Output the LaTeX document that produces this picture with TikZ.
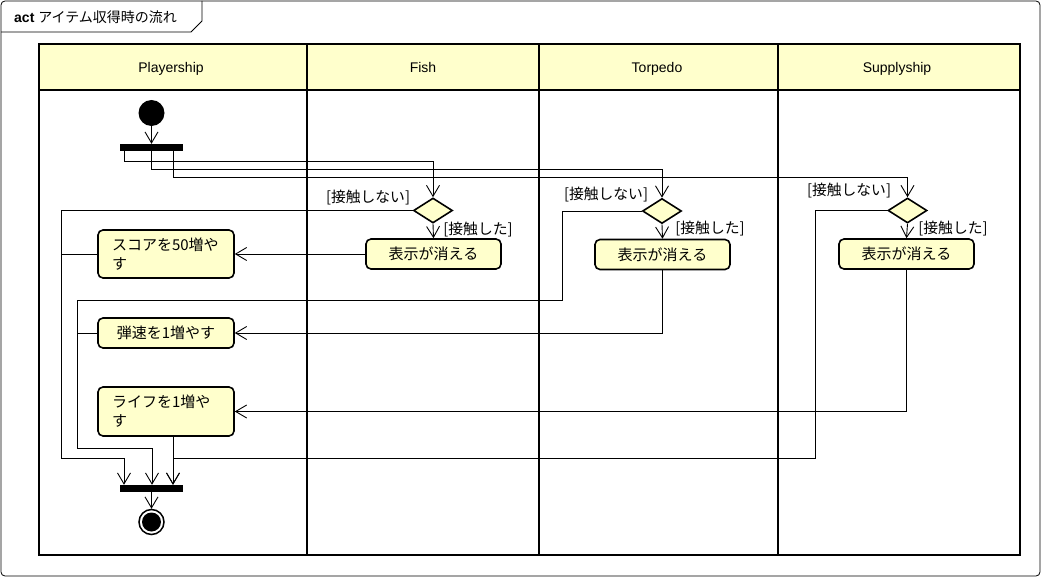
\documentclass[tikz,border=0pt]{standalone}
\usepackage{fontspec}
\setmainfont{Liberation Sans}
\newfontfamily\jp{Noto Sans CJK JP}
\usetikzlibrary{shapes.geometric,arrows.meta}
\definecolor{umlfill}{RGB}{255,255,204}
\begin{document}
\begin{tikzpicture}[x=1pt,y=-1pt,
  lane/.style={draw, line width=2.5pt},
  actbox/.style={draw, line width=1.6pt, rounded corners=5pt, fill=umlfill, font=\jp\fontsize{15}{19}\selectfont, inner sep=0pt},
  dec/.style={diamond, draw, line width=1.6pt, fill=umlfill, minimum width=39pt, minimum height=25pt, inner sep=0pt},
  syncbar/.style={fill=black, minimum width=63pt, minimum height=7pt, inner sep=0pt},
  arr/.style={-{Straight Barb[length=11pt,width=13pt,line width=0.9pt]}, line width=0.9pt},
  conn/.style={line width=0.9pt},
  guard/.style={font=\jp\fontsize{14.8}{16}\selectfont, inner sep=0pt},
  hdr/.style={font=\fontsize{14}{16}\selectfont, inner sep=0pt, anchor=base}
]
\useasboundingbox (0,0) rectangle (1045,578);
% outer frame
\draw[line width=0.8pt, rounded corners=4pt] (1,1) rectangle (1040,576);
\draw[line width=0.8pt] (1,32) -- (191,32) -- (202,21) -- (202,1);
\node[anchor=west, inner sep=0pt, font=\fontsize{14}{16}\selectfont] (title) at (14,17) {\textbf{act} {\jp アイテム収得時の流れ}};
% swimlanes
\fill[umlfill] (39,44) rectangle (1020,90);
\draw[lane] (39,44) rectangle (1020,555);
\draw[lane] (39,90) -- (1020,90);
\draw[lane] (307,44) -- (307,555);
\draw[lane] (539,44) -- (539,555);
\draw[lane] (778,44) -- (778,555);
\node[hdr] (h1) at (171,73) {Playership};
\node[hdr] (h2) at (423,73) {Fish};
\node[hdr] (h3) at (657,73) {Torpedo};
\node[hdr] (h4) at (897,73) {Supplyship};
% nodes
\node[circle, fill=black, minimum size=26pt, inner sep=0pt] (start) at (151.5,113) {};
\node[syncbar] (fork1) at (151.5,147.5) {};
\node[dec] (d1) at (433,210.5) {};
\node[dec] (d2) at (662,211) {};
\node[dec] (d3) at (907.5,210.5) {};
\node[actbox, minimum width=135pt, minimum height=30pt] (a1) at (433.5,254) {表示が消える};
\node[actbox, minimum width=135pt, minimum height=30pt] (a2) at (662.5,254.5) {表示が消える};
\node[actbox, minimum width=135pt, minimum height=30pt] (a3) at (906.5,254) {表示が消える};
\node[actbox, minimum width=136pt, minimum height=48pt, text width=108pt, align=left, inner xsep=14pt] (score) at (166,254) {スコアを50増や\\す};
\node[actbox, minimum width=136pt, minimum height=30pt] (speed) at (166,333) {弾速を1増やす};
\node[actbox, minimum width=136pt, minimum height=49pt, text width=108pt, align=left, inner xsep=14pt] (life) at (166,411.5) {ライフを1増や\\す};
\node[syncbar] (join) at (151.5,488.5) {};
\node[circle, draw, line width=1.5pt, fill=white, minimum size=25pt, inner sep=0pt] (end) at (151.5,522) {};
\fill (end.center) circle (9.5pt);
% guards
\node[guard] (g1n) at (368,198) {[接触しない]};
\node[guard] (g1y) at (478,230) {[接触した]};
\node[guard] (g2n) at (606,195) {[接触しない]};
\node[guard] (g2y) at (710,229) {[接触した]};
\node[guard] (g3n) at (849,191) {[接触しない]};
\node[guard] (g3y) at (953,229) {[接触した]};
% connectors
\draw[arr] (start) -- (fork1);
\draw[arr] ([xshift=-27.5pt]fork1.south) -- ++(0,10.5) -| (d1.north);
\draw[arr] (fork1.south) -- ++(0,18.5) -| (d2.north);
\draw[arr] ([xshift=21.5pt]fork1.south) -- ++(0,26.5) -| (d3.north);
\draw[arr] (d1.south) -- (a1.north);
\draw[arr] (d2.south) -- (a2.north);
\draw[arr] (d3.south) -- (a3.north);
\draw[arr] (a1.west) -- (score.east);
\draw[arr] (a2.south) |- (speed.east);
\draw[arr] (a3.south) |- (life.east);
\draw[arr] (d1.west) -| (61,458) -| ([xshift=-27.5pt]join.north);
\draw[conn] (score.west) -- (61,254);
\draw[arr] (d2.west) -| (562,300) -| (77,448) -| ([xshift=0.5pt]join.north);
\draw[conn] (speed.west) -- (77,333);
\draw[arr] (d3.west) -| (815,458) -| ([xshift=21.5pt]join.north);
\draw[arr] ([xshift=21.5pt]join.north |- life.south) -- ([xshift=21.5pt]join.north);
\draw[arr] (join) -- (end);
\end{tikzpicture}
\end{document}
